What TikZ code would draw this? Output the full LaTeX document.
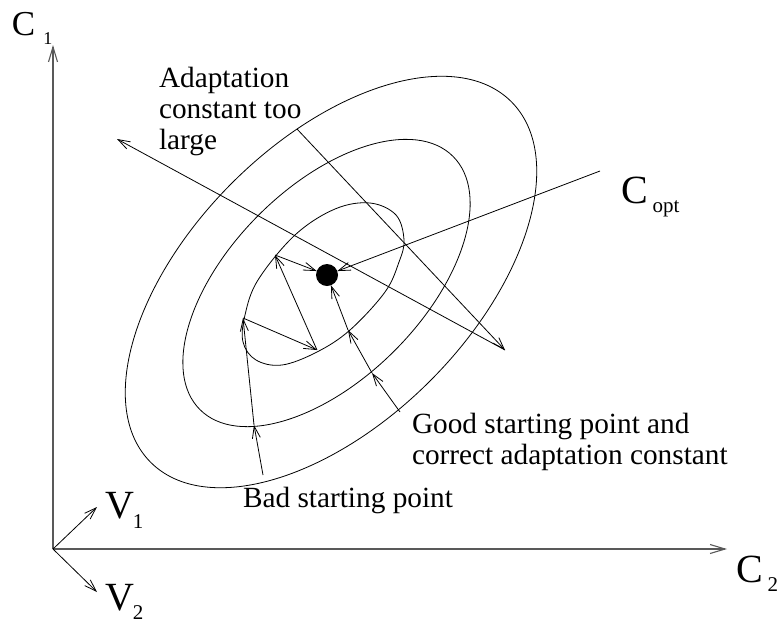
\documentclass[tikz,border=0pt]{standalone}
\usepackage{fontspec}
\setmainfont{Liberation Serif}
\usetikzlibrary{arrows.meta}
\begin{document}
\begin{tikzpicture}[x=1pt,y=-1pt,
  every node/.style={inner sep=0pt, outer sep=0pt},
  ln/.style={line width=0.8pt, black},
  tip/.style={-{Straight Barb[length=12pt,width=8pt,line width=0.8pt]}},
  axis/.style={line width=1.3pt, black!65, -{Straight Barb[length=15pt,width=9pt,line width=1.1pt]}},
  big/.style={font=\fontsize{40}{40}\selectfont},
  lbl/.style={font=\fontsize{29.3}{31}\selectfont, align=left, anchor=north west}
]
\useasboundingbox (0,0) rectangle (781,625);

% axes
\coordinate (O) at (53,549);
\coordinate (ytop) at (53,45);
\coordinate (xend) at (727,549);
\coordinate (v1) at (97,507);
\coordinate (v2) at (97,592);
\draw[axis] (O) -- (ytop);
\draw[axis] (O) -- (xend);
\draw[ln,tip] (O) -- (v1);
\draw[ln,tip] (O) -- (v2);

% contour ellipses
\coordinate (oc) at (331,282);
\coordinate (mc) at (326.5,283);
\draw[ln, rotate around={45:(oc)}] (oc) ellipse [x radius=255pt, y radius=140pt];
\draw[ln, rotate around={45:(mc)}] (mc) ellipse [x radius=179pt, y radius=96pt];
\draw[ln] plot[smooth cycle, tension=0.6] coordinates {
 (370,203) (396,215) (404,240) (399,262) (385,292) (350,330) (317,352) (282,365)
 (256,360) (243,342) (245,315) (258,280) (295,235) (335,209)};

% optimum
\node[circle, fill=black, minimum size=22pt] (dot) at (327,275) {};
\coordinate (copt) at (600,171);
\draw[ln,tip] (copt) -- (dot);

% adaptation constant too large
\coordinate (a0) at (297,129);
\coordinate (a1) at (505,350);
\coordinate (a2) at (117,139);
\draw[ln,tip] (a0) -- (a1);
\draw[ln,tip] (a1) -- (a2);

% bad starting point
\coordinate (b0) at (263,475);
\coordinate (b1) at (254,425);
\coordinate (b2) at (243,318);
\coordinate (b3) at (317,350);
\coordinate (b4) at (275,255);
\draw[ln,tip] (b0) -- (b1);
\draw[ln,tip] (b1) -- (b2);
\draw[ln,tip] (b2) -- (b3);
\draw[ln,tip] (b3) -- (b4);
\draw[ln,tip] (b4) -- (dot);

% good starting point
\coordinate (g0) at (400,412);
\coordinate (g1) at (372,373);
\coordinate (g2) at (348,330);
\draw[ln,tip] (g0) -- (g1);
\draw[ln,tip] (g1) -- (g2);
\draw[ln,tip] (g2) -- (dot);

% labels
\node[anchor=base west, font=\fontsize{35}{35}\selectfont] (c1lbl) at (12,35)
  {C\hspace{8pt}\raisebox{-9pt}{\fontsize{18}{18}\selectfont 1}};
\node[anchor=base west, big] (v1lbl) at (105,518)
  {V\hspace{-1pt}\raisebox{-10pt}{\fontsize{21}{21}\selectfont 1}};
\node[anchor=base west, big] (v2lbl) at (105,610)
  {V\hspace{-1pt}\raisebox{-9pt}{\fontsize{21}{21}\selectfont 2}};
\node[anchor=base west, big] (c2lbl) at (736,582)
  {C\hspace{5pt}\raisebox{-9pt}{\fontsize{21}{21}\selectfont 2}};
\node[anchor=base west, big] (coptlbl) at (621,203)
  {C\hspace{5pt}\raisebox{-9pt}{\fontsize{21}{21}\selectfont opt}};

\node[lbl] (adlbl) at (159,67) {Adaptation\\constant too\\large};
\node[lbl] (goodlbl) at (412,413) {Good starting point and\\correct adaptation constant};
\node[lbl] (badlbl) at (243,487) {Bad starting point};
\end{tikzpicture}
\end{document}
